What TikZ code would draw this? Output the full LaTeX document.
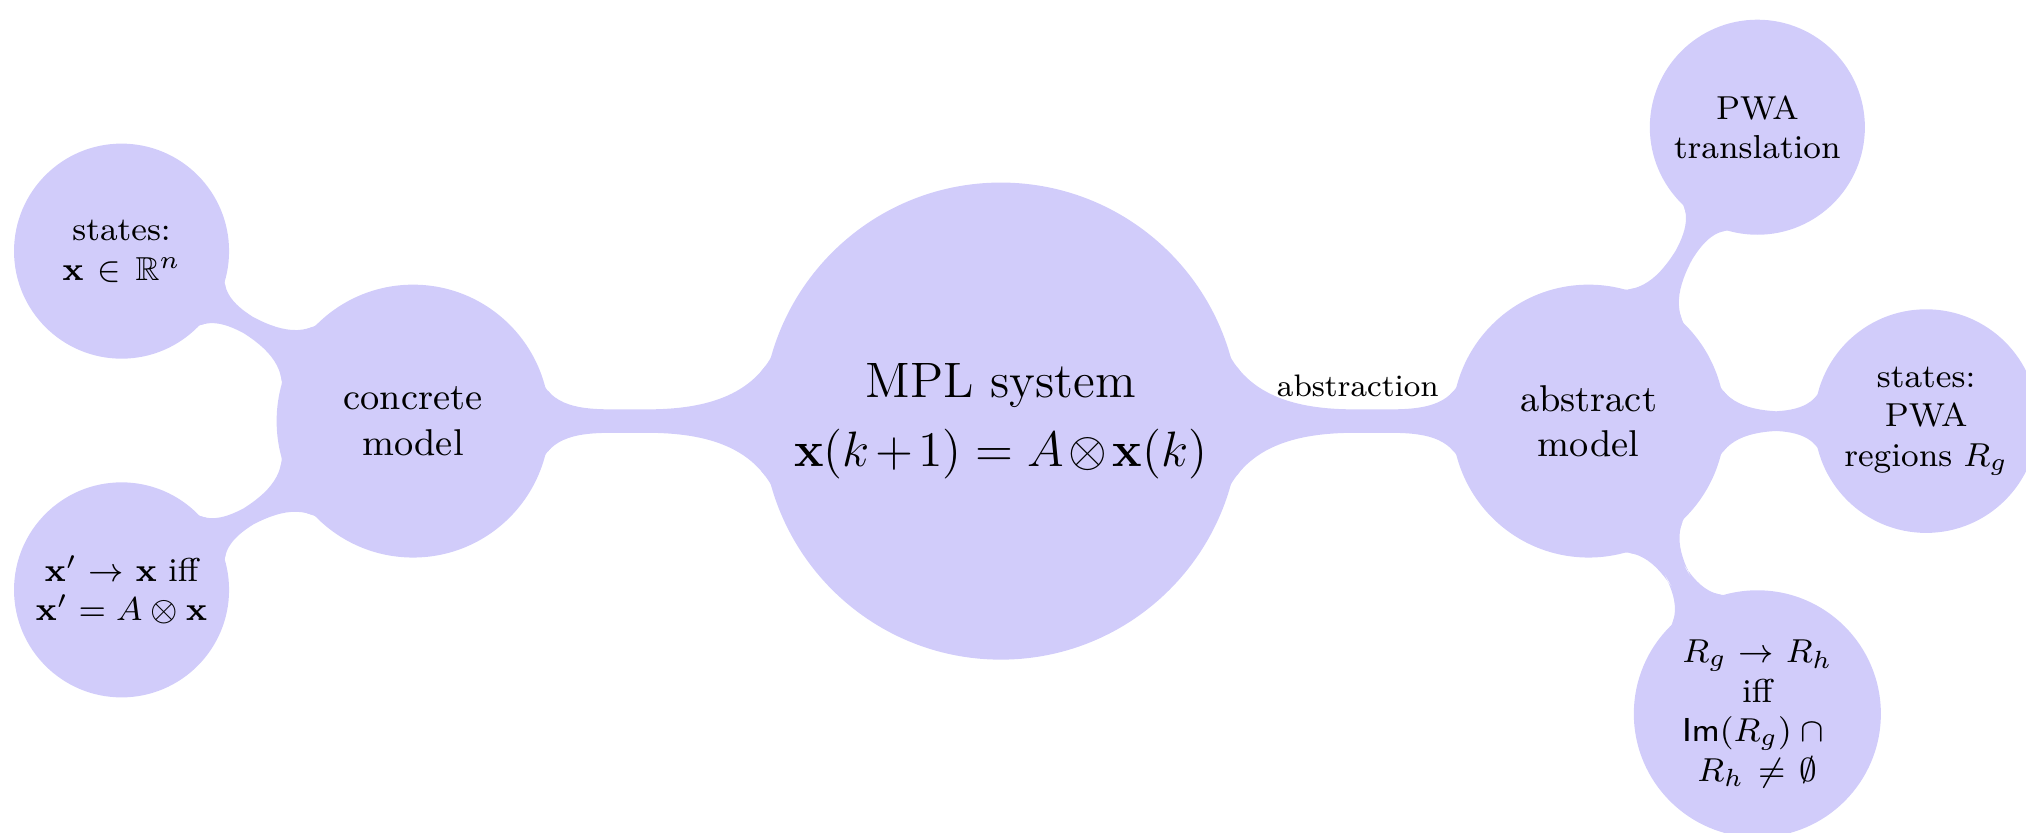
\documentclass[tikz,border=0pt]{standalone}
\usepackage{amsmath,amssymb}
\usetikzlibrary{mindmap}
\definecolor{mmfill}{RGB}{209,204,250}
\begin{document}
\begin{tikzpicture}
\useasboundingbox (-8.48,-3.483) rectangle (8.686,3.568);
\begin{scope}[mindmap, concept color=mmfill,
  rootc/.style={concept, minimum size=4cm, text width=3.5cm, align=center, text=black, font=\large},
  lvlone/.style={concept, minimum size=2.27cm, text width=2cm, align=center, text=black, font=\small},
  lvltwo/.style={concept, minimum size=1.78cm, text width=1.5cm, align=center, text=black, font=\footnotesize},
  barone/.style={circle connection bar switch color=from (mmfill) to (mmfill)},
  bartwo/.style={circle connection bar switch color=from (mmfill) to (mmfill)}]
\node[rootc] (root) at (0,0) {MPL system\\[2.5pt] $\mathbf{x}(k+1) = A\otimes\mathbf{x}(k)$};
\node[lvlone] (concrete) at (-4.98,0) {concrete\\ model};
\node[lvlone] (abstract) at (4.98,0) {abstract\\ model};
\node[lvltwo] (cstates) at (-7.45,1.44) {states:\\ $\mathbf{x}\in\mathbb{R}^n$};
\node[lvltwo] (ctrans) at (-7.45,-1.43) {$\mathbf{x}'\rightarrow\mathbf{x}$ iff\\ $\mathbf{x}'=A\otimes\mathbf{x}$};
\node[lvltwo] (pwa) at (6.41,2.49) {PWA\\ translation};
\node[lvltwo] (astates) at (7.84,0) {states:\\ PWA\\ regions $R_g$};
\node[lvltwo] (atrans) at (6.41,-2.48) {$R_g\rightarrow R_h$\\ iff\\ $\mathsf{Im}(R_g)\cap{}$\\ $R_h\neq\emptyset$};
\path (root) to[barone] (concrete);
\path (root) to[barone] (abstract);
\path (concrete) to[bartwo] (cstates);
\path (concrete) to[bartwo] (ctrans);
\path (abstract) to[bartwo] (pwa);
\path (abstract) to[bartwo] (astates);
\path (abstract) to[bartwo] (atrans);
\end{scope}
\node[font=\fontsize{7.5pt}{9pt}\selectfont, above, inner sep=0.1cm] (abslabel) at (3.025,0.1) {abstraction};
\end{tikzpicture}
\end{document}
